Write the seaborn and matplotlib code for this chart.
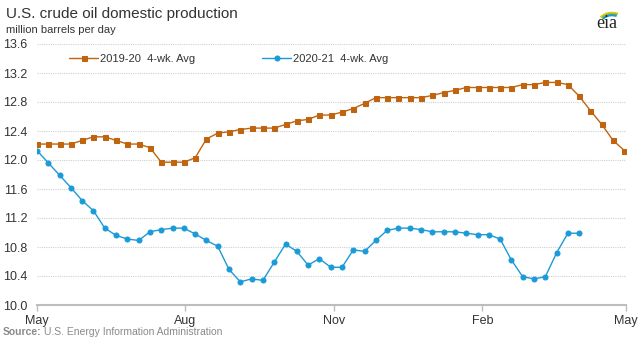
import numpy as np
import pandas as pd
import matplotlib
matplotlib.use("Agg")
import matplotlib.pyplot as plt
import matplotlib.dates as mdates
from matplotlib.patches import Arc
import seaborn as sns

# ---- data ----
series_2019 = [12.22, 12.22, 12.22, 12.22, 12.27, 12.32, 12.32, 12.27, 12.22, 12.22,
               12.17, 11.97, 11.97, 11.97, 12.03, 12.29, 12.37, 12.39, 12.42,
               12.44, 12.44, 12.44, 12.49, 12.54, 12.56, 12.62, 12.62, 12.66, 12.71,
               12.78, 12.86, 12.86, 12.86, 12.86, 12.86, 12.89,
               12.93, 12.96, 13.00, 13.00, 13.00, 13.00, 13.00, 13.04, 13.04, 13.07,
               13.07, 13.04, 12.88, 12.68, 12.49, 12.27, 12.13]
series_2020 = [12.13, 11.96, 11.79, 11.62, 11.44, 11.30, 11.06, 10.96, 10.91, 10.89,
               11.01, 11.04, 11.06, 11.06, 10.98, 10.89, 10.81, 10.49, 10.32,
               10.36, 10.34, 10.59, 10.84, 10.74, 10.55, 10.64, 10.52, 10.52, 10.76,
               10.74, 10.89, 11.03, 11.06, 11.06, 11.04, 11.01,
               11.01, 11.01, 10.99, 10.97, 10.97, 10.91, 10.62, 10.39, 10.36, 10.39,
               10.72, 10.99, 10.99]
label_2019 = "2019-20  4-wk. Avg"
label_2020 = "2020-21  4-wk. Avg"
y_ticks = [10.0, 10.4, 10.8, 11.2, 11.6, 12.0, 12.4, 12.8, 13.2, 13.6]
x_tick_dates = ["2020-05-01", "2020-08-01", "2020-11-01", "2021-02-01", "2021-05-01"]

weeks = pd.date_range("2020-05-01", periods=len(series_2019), freq="7D")
df19 = pd.DataFrame({"date": weeks, "value": series_2019})
df20 = pd.DataFrame({"date": weeks[:len(series_2020)], "value": series_2020})

sns.set_theme(style="white")
plt.rcParams["font.family"] = ["Liberation Sans", "DejaVu Sans"]

fig = plt.figure(figsize=(6.4, 3.42), dpi=100)
ax = fig.add_axes([37/640, 1-305/342, (626-37)/640, (305-44)/342])

orange = "#C0640F"
blue = "#1B9AD8"
sns.lineplot(data=df19, x="date", y="value", ax=ax, color=orange, lw=1.0,
             marker="s", markersize=3.6, markeredgecolor=orange, label=label_2019)
sns.lineplot(data=df20, x="date", y="value", ax=ax, color=blue, lw=1.0,
             marker="o", markersize=3.6, markeredgecolor=blue, label=label_2020)

ax.set_xlim(pd.Timestamp("2020-05-01"), pd.Timestamp("2021-05-01"))
ax.set_ylim(10.0, 13.6)
ax.set_yticks(y_ticks)
ax.set_yticklabels([f"{v:.1f}" for v in y_ticks])
ax.set_xticks([pd.Timestamp(d) for d in x_tick_dates])
ax.xaxis.set_major_formatter(mdates.DateFormatter("%b"))
ax.set_xlabel("")
ax.set_ylabel("")

ax.grid(axis="y", color="#D0D0D0", lw=0.8, ls=(0, (1, 1)))
ax.grid(axis="x", visible=False)
for s in ["top", "right", "left"]:
    ax.spines[s].set_visible(False)
ax.spines["bottom"].set_color("#BDBDBD")
ax.spines["bottom"].set_linewidth(1.5)
ax.tick_params(axis="x", length=4, width=1, color="#BDBDBD", labelsize=9,
               labelcolor="#333333", pad=3, bottom=True)
ax.tick_params(axis="y", length=0, labelsize=9, labelcolor="#333333", pad=7)

leg = ax.legend(loc="upper left", bbox_to_anchor=(0.038, 1.0), ncol=2, frameon=False,
                fontsize=8, handlelength=2.6, columnspacing=6.0, handletextpad=0.2,
                labelcolor="#333333")

fig.text(6/640, 1-14/342, "U.S. crude oil domestic production", fontsize=11,
         color="#333333", va="center", ha="left")
fig.text(6/640, 1-30/342, "million barrels per day", fontsize=8,
         color="#333333", va="center", ha="left")
fig.text(3/640, 1-332/342, "Source:", fontsize=7.5, color="#8A8A8A",
         fontweight="bold", va="center", ha="left")
fig.text(44/640, 1-332/342, "U.S. Energy Information Administration", fontsize=7.5,
         color="#8A8A8A", va="center", ha="left")

# eia logo
fig.text(607/640, 1-24/342, "eia", fontsize=13, family="Liberation Serif",
         color="#222222", ha="center", va="center")
lax = fig.add_axes([590/640, 1-32/342, 36/640, 28/342])
lax.set_xlim(0, 36); lax.set_ylim(0, 28); lax.axis("off")
for r, c in [(14, "#F5C400"), (12.5, "#8CC63F"), (11, "#1B9AD8")]:
    lax.add_patch(Arc((22, 8), 2*r, 1.6*r, theta1=60, theta2=150, color=c, lw=1.6))

fig.savefig("out.png", dpi=100)
